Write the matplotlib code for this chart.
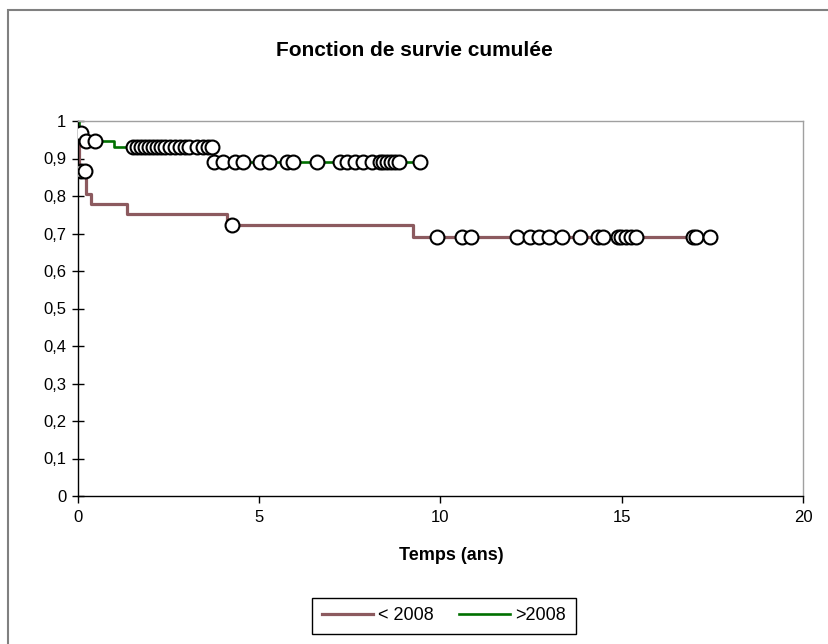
import matplotlib
matplotlib.use("Agg")
import matplotlib.pyplot as plt
from matplotlib.patches import Rectangle

plt.rcParams['font.family'] = ['Liberation Sans', 'DejaVu Sans']

# Kaplan-Meier steps, "< 2008" group (time in years, survival)
red_t = [0, 0.01, 0.02, 0.03, 0.04, 0.22, 0.35, 1.36, 4.1, 9.25, 17.43]
red_s = [1.0, 0.966, 0.933, 0.9, 0.866, 0.805, 0.779, 0.752, 0.722, 0.692, 0.692]
# censored points, "< 2008"
red_ct = [0.09, 0.2, 4.24, 9.89, 10.58, 10.85, 12.10, 12.47, 12.73, 13.00, 13.34,
          13.85, 14.35, 14.49, 14.90, 14.99, 15.12, 15.25, 15.39, 16.97, 17.06, 17.43]
red_cs = [0.866, 0.866, 0.722] + [0.692] * 19

# "> 2008" group
green_t = [0, 0.02, 0.12, 0.99, 3.72, 9.43]
green_s = [1.0, 0.968, 0.946, 0.93, 0.891, 0.891]
green_ct = [0.09, 0.21, 0.46,
            1.52, 1.63, 1.74, 1.85, 1.96, 2.07, 2.18, 2.29, 2.40, 2.54, 2.68, 2.81,
            2.95, 3.06, 3.28, 3.45, 3.59, 3.70,
            3.75, 3.99, 4.33, 4.56, 5.02, 5.27, 5.76, 5.94, 6.58, 7.23, 7.41, 7.64,
            7.87, 8.10, 8.33, 8.41, 8.52, 8.63, 8.75, 8.86, 9.43]
green_cs = [0.968, 0.946, 0.946] + [0.93] * 18 + [0.891] * 21

yticks = [0, 0.1, 0.2, 0.3, 0.4, 0.5, 0.6, 0.7, 0.8, 0.9, 1]
ylabels = ["0", "0,1", "0,2", "0,3", "0,4", "0,5", "0,6", "0,7", "0,8", "0,9", "1"]
xticks = [0, 5, 10, 15, 20]

red = '#8c5a5f'
green = '#007000'

fig = plt.figure(figsize=(8.29, 6.44), dpi=100)
# outer chart frame
fig.patches.append(Rectangle((8 / 829, -0.1), 1.2, 1 - 10 / 644 + 0.1,
                             transform=fig.transFigure, fill=False,
                             edgecolor='#808080', linewidth=1.5))

ax = fig.add_axes([78 / 829, 1 - 496 / 644, 725 / 829, 375 / 644])
ax.step(red_t, red_s, where='post', color=red, linewidth=2.3, label='< 2008')
ax.step(green_t, green_s, where='post', color=green, linewidth=1.9, label='>2008')
ax.plot(red_ct, red_cs, 'o', markersize=10, markerfacecolor='white',
        markeredgecolor='black', markeredgewidth=1.5, zorder=3)
ax.plot(green_ct, green_cs, 'o', markersize=10, markerfacecolor='white',
        markeredgecolor='black', markeredgewidth=1.5, zorder=3)

ax.set_xlim(0, 20)
ax.set_ylim(0, 1)
ax.set_xticks(xticks)
ax.set_yticks(yticks)
ax.set_yticklabels(ylabels)
ax.tick_params(axis='y', direction='inout', length=9, width=1, labelsize=12, pad=4)
ax.tick_params(axis='x', direction='out', length=5, width=1, labelsize=12, pad=5)
for s in ['top', 'right']:
    ax.spines[s].set_color('#a0a0a0')
    ax.spines[s].set_linewidth(1)
for s in ['left', 'bottom']:
    ax.spines[s].set_color('black')
    ax.spines[s].set_linewidth(1)

fig.text(0.5, 1 - 50 / 644, "Fonction de survie cumulée", ha='center', va='center',
         fontsize=15, fontweight='bold')
fig.text(451 / 829, 1 - 555 / 644, "Temps (ans)", ha='center', va='center',
         fontsize=13, fontweight='bold')

leg = fig.legend(loc='center', bbox_to_anchor=(444 / 829, 1 - 616 / 644), ncol=2,
                 fontsize=13, fancybox=False, edgecolor='black', framealpha=1,
                 handlelength=2.8, handletextpad=0.3, columnspacing=1.4,
                 borderpad=0.55)
leg.get_frame().set_linewidth(1)

plt.savefig("out.png", dpi=100)
